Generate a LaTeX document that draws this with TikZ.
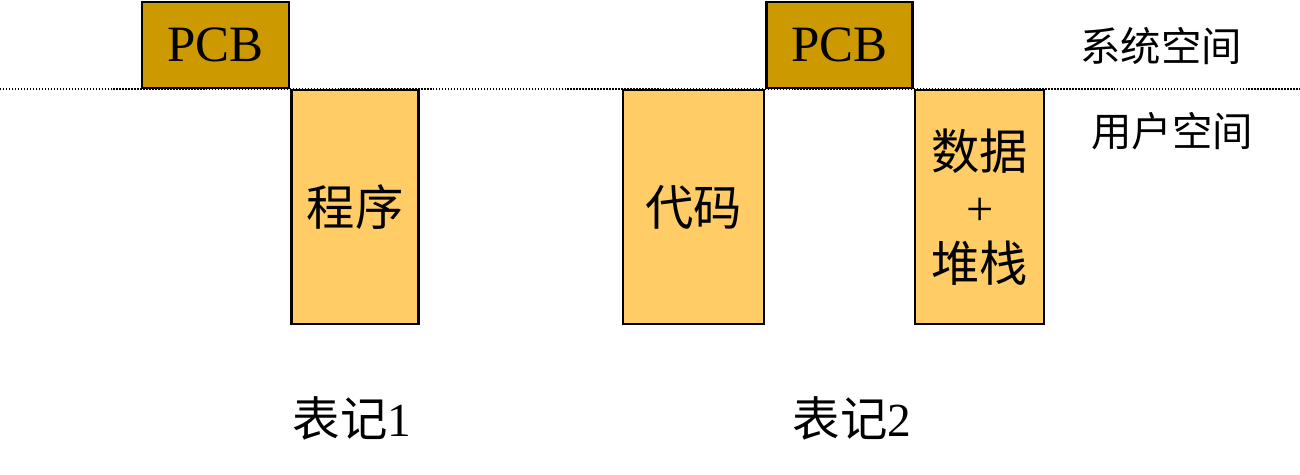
\documentclass[tikz,border=0pt]{standalone}
\usepackage{fontspec}
\setmainfont{Liberation Serif}
\newfontfamily\cjk{Noto Sans CJK SC}
\usetikzlibrary{positioning}

\definecolor{pcbgold}{HTML}{CC9900}
\definecolor{userfill}{HTML}{FFCC66}

\tikzset{
  pcbbox/.style={draw, line width=1.4pt, fill=pcbgold, inner sep=0pt,
    minimum width=2.94cm, minimum height=1.72cm, font=\fontsize{29}{32}\selectfont},
  userbox/.style={draw, line width=1.4pt, fill=userfill, inner sep=0pt,
    minimum height=4.68cm, font=\fontsize{27.5}{32}\selectfont\cjk, align=center},
  spacelabel/.style={font=\fontsize{23}{28}\selectfont\cjk},
  marklabel/.style={font=\fontsize{27}{32}\selectfont}
}

\begin{document}
\begin{tikzpicture}[x=0.02cm, y=-0.02cm]
      \useasboundingbox (0,0) rectangle (1300,475);
      % Define nodes
      \coordinate (lineL) at (0,89);
      \coordinate (lineR) at (1300,89);
      \draw[line width=0.8pt, dash pattern=on 0.8pt off 0.9pt] (lineL) -- (lineR);
      \node[pcbbox, anchor=south west] (pcbA) at (141,89) {PCB};
      \node[userbox, minimum width=2.54cm, anchor=north west] (prog) at (pcbA.south east) {程序};
      \node[userbox, minimum width=2.82cm, anchor=north west] (code) at (622,89) {代码};
      \node[pcbbox, minimum width=2.92cm, anchor=south west] (pcbB) at (code.north east) {PCB};
      \node[userbox, minimum width=2.58cm, anchor=north west] (data) at (914,89)
        {数据\\{\rmfamily +}\\堆栈};
      % Labels
      \node[spacelabel] (sys) at (1161,46) {系统空间};
      \node[spacelabel] (user) at (1172,131) {用户空间};
      \node[marklabel] (markA) at (352,418) {{\cjk 表记}1};
      \node[marklabel] (markB) at (852,418) {{\cjk 表记}2};
    \end{tikzpicture}
\end{document}
